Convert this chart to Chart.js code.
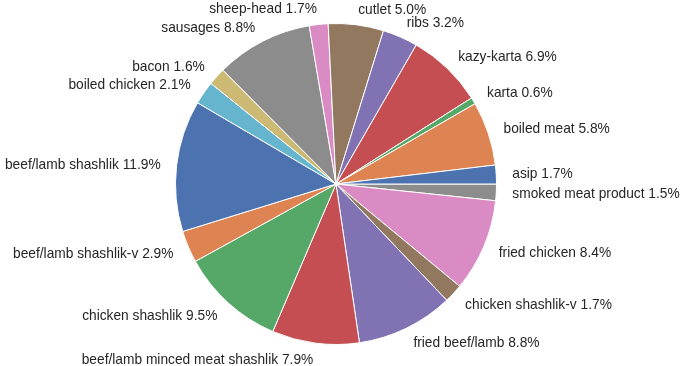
<!DOCTYPE html>
<html>
<head>
<meta charset="utf-8">
<script src="https://cdn.jsdelivr.net/npm/chart.js@4/dist/chart.umd.min.js"></script>
<style>
  html, body { margin: 0; padding: 0; background: #fff; }
  canvas { display: block; }
</style>
</head>
<body>
<canvas id="pieChart" width="685" height="366"></canvas>
<script>
// counterclockwise from 3 o'clock, as in the original
var categories = ['asip', 'boiled meat', 'karta', 'kazy-karta', 'ribs', 'cutlet', 'sheep-head',
  'sausages', 'bacon', 'boiled chicken', 'beef/lamb shashlik', 'beef/lamb shashlik-v',
  'chicken shashlik', 'beef/lamb minced meat shashlik', 'fried beef/lamb', 'chicken shashlik-v',
  'fried chicken', 'smoked meat product'];
var shares = [1.7, 5.8, 0.6, 6.9, 3.2, 5.0, 1.7, 8.8, 1.6, 2.1, 11.9, 2.9, 9.5, 7.9, 8.8, 1.7, 8.4, 1.5];
var palette = ['#4C72B0', '#DD8452', '#55A868', '#C44E52', '#8172B3', '#937860', '#DA8BC3', '#8C8C8C', '#CCB974', '#64B5CD'];

// Chart.js draws clockwise, so flip the order and start at 3 o'clock
var labels = categories.slice().reverse();
var values = shares.slice().reverse();
var colors = categories.map(function(c, i) { return palette[i % palette.length]; }).reverse();

var outsideLabels = {
  id: 'outsideLabels',
  afterDatasetsDraw: function(chart) {
    var ctx = chart.ctx;
    var meta = chart.getDatasetMeta(0);
    ctx.save();
    ctx.font = '13.75px "Liberation Sans", Arial, sans-serif';
    ctx.fillStyle = '#262626';
    ctx.textBaseline = 'middle';
    meta.data.forEach(function(arc, i) {
      var p = arc.getProps(['x', 'y', 'startAngle', 'endAngle', 'outerRadius'], true);
      var mid = (p.startAngle + p.endAngle) / 2;
      var r = p.outerRadius * 1.1;
      var cx = Math.cos(mid);
      ctx.textAlign = cx >= 0 ? 'left' : 'right';
      ctx.fillText(labels[i] + ' ' + values[i].toFixed(1) + '%', p.x + r * cx, p.y + r * Math.sin(mid) + 1);
    });
    ctx.restore();
  }
};

new Chart(document.getElementById('pieChart'), {
  type: 'pie',
  data: {
    labels: labels,
    datasets: [{
      data: values,
      backgroundColor: colors,
      borderColor: '#ffffff',
      borderWidth: 1
    }]
  },
  options: {
    responsive: false,
    animation: false,
    rotation: 90,
    layout: { padding: { left: 175, right: 188, top: 23, bottom: 21 } },
    plugins: { legend: { display: false }, tooltip: { enabled: false } }
  },
  plugins: [outsideLabels]
});
</script>
</body>
</html>
